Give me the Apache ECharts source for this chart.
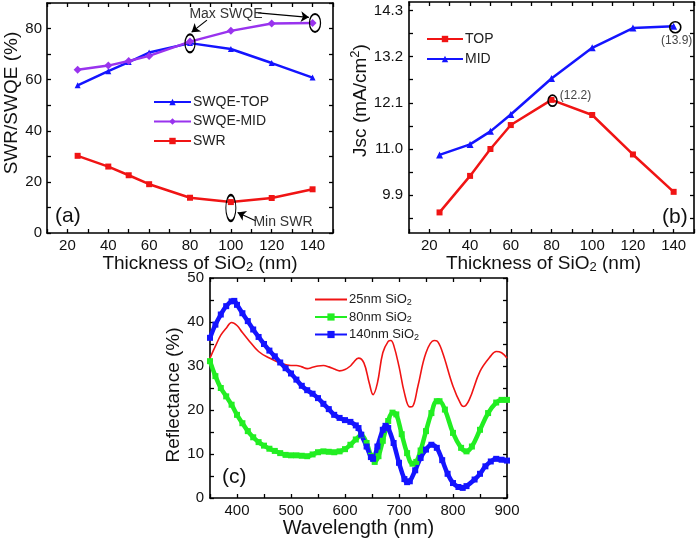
<!DOCTYPE html>
<html><head><meta charset="utf-8">
<script src="https://cdn.jsdelivr.net/npm/echarts@6/dist/echarts.min.js"></script>
<style>html,body{margin:0;padding:0;background:#fff}#c{width:700px;height:540px}</style>
</head><body><div id="c"></div>
<script>
// ---- Panel (a) data ----
const thickness = [25, 40, 50, 60, 80, 100, 120, 140];
const swqeTop = [57.8, 63.3, 66.9, 70.6, 74.3, 72.0, 66.5, 60.8];
const swqeMid = [63.9, 65.5, 67.3, 69.3, 74.9, 79.1, 82.0, 82.2];
const swr = [30.2, 26.0, 22.6, 19.1, 13.8, 12.1, 13.7, 17.1];
// ---- Panel (b) data ----
const jscTop = [9.49, 10.36, 11.0, 11.57, 12.17, 11.81, 10.87, 9.98];
const jscMid = [10.86, 11.11, 11.42, 11.82, 12.68, 13.41, 13.88, 13.92];
const jscTicks = [9.9, 11.0, 12.1, 13.2, 14.3];
const jscMinorTicks = [9.35, 9.9, 10.45, 11.0, 11.55, 12.1, 12.65, 13.2, 13.75, 14.3];
// ---- Panel (c) data ----
const wl25 = [350,360,370,380,390,400,410,420,440,460,480,500,510,520,530,540,550,560,570,580,590,600,610,615,625,635,645,652,660,670,680,685,690,700,710,720,725,735,750,765,770,780,800,815,820,830,850,870,880,890,900];
const r25 = [31.8,34.5,37.0,38.6,39.9,39.2,37.6,36.1,33.3,31.8,30.7,30.1,30.1,29.8,29.4,29.7,30.0,30.1,29.8,29.3,28.9,29.2,30.0,30.7,31.8,30.7,26.1,23.5,26.1,33.0,35.6,35.8,34.8,29.9,23.9,20.7,20.8,25.4,33.0,35.8,35.7,33.3,25.4,21.2,20.8,22.3,28.8,32.3,33.3,33.0,31.8];
const wl80 = [350,360,370,380,390,400,410,420,430,440,450,460,470,480,490,500,510,520,530,540,550,560,570,580,590,600,610,620,630,640,648,655,662,670,680,688,695,705,715,725,732,740,750,760,770,775,785,800,815,825,835,850,865,880,890,900];
const r80 = [31.1,27.7,25.0,23.1,21.2,18.9,17.0,15.2,13.8,12.7,11.9,11.2,10.7,10.2,9.8,9.7,9.7,9.6,9.5,9.9,10.4,10.6,10.5,10.4,10.6,11.1,12.1,13.3,14.3,12.5,9.6,8.2,9.5,13.0,17.5,19.4,19.0,14.5,10.2,7.8,8.2,10.8,15.2,19.3,22.0,22.0,20.1,14.8,11.4,10.6,11.7,15.5,19.3,21.7,22.3,22.3];
const wl140 = [350,360,370,380,390,395,400,410,420,430,440,450,460,470,480,490,500,510,520,530,540,550,560,570,580,590,600,610,620,625,630,640,648,652,660,670,675,680,690,700,710,715,720,730,740,750,760,770,780,790,800,810,818,825,840,850,860,870,880,890,900];
const r140 = [36.4,39.4,41.7,43.6,44.7,44.8,43.9,42.0,40.2,38.3,36.6,35.0,33.5,32.2,30.8,29.5,28.3,26.9,25.5,24.5,23.7,22.7,21.4,20.2,18.9,18.2,17.7,17.3,16.5,15.9,14.4,11.7,9.3,8.9,11.7,15.5,16.4,15.9,12.5,8.0,4.3,3.6,3.8,6.3,9.1,11.0,12.1,11.4,8.6,5.5,3.4,2.5,2.3,2.7,4.2,5.5,7.2,8.3,8.9,8.7,8.5];

const FONT = '"Liberation Sans", Arial, Helvetica, sans-serif';
const BLUE = '#1414ff', RED = '#f01414', PURPLE = '#9933ee', GREEN = '#22ee22';
const pairs = (xs, ys) => xs.map((x, i) => [x, ys[i]]);

function axis(o) {
  const a = {
    type: 'value', gridIndex: o.grid, position: o.pos, min: o.min, max: o.max,
    axisLine: { show: true, onZero: false, lineStyle: { color: '#000', width: 1.6 } },
    axisTick: { show: true, inside: true, length: 4, lineStyle: { color: '#000', width: 1.3 } },
    axisLabel: { show: !!o.label, margin: o.margin || 6, fontSize: 15, color: '#111', fontFamily: FONT, formatter: o.formatter },
    splitLine: { show: false }
  };
  if (o.interval != null) a.interval = o.interval;
  if (o.tickValues) a.axisTick.customValues = o.tickValues;
  if (o.labelValues) a.axisLabel.customValues = o.labelValues;
  if (o.name) {
    a.name = o.name; a.nameLocation = 'middle'; a.nameGap = o.nameGap;
    a.nameTextStyle = Object.assign({ fontSize: 19, color: '#111', fontFamily: FONT,
      rich: { s: { fontSize: 13, fontFamily: FONT, color: '#111', verticalAlign: 'bottom', padding: [9, 0, 0, 0] },
              p: { fontSize: 13, fontFamily: FONT, color: '#111', verticalAlign: 'top', padding: [0, 0, 9, 0] } } }, o.nameStyle || {});
    if (o.nameRotate != null) a.nameRotate = o.nameRotate;
  }
  return a;
}
const by = (step) => (v) => (Math.abs(v % step) < 1e-6 ? String(v) : '');

const option = {
  animation: false,
  backgroundColor: '#fff',
  textStyle: { fontFamily: FONT },
  grid: [
    { left: 47, top: 3, width: 286, height: 230 },
    { left: 409, top: 2, width: 285, height: 231 },
    { left: 210, top: 278, width: 297, height: 220 }
  ],
  xAxis: [
    axis({ grid: 0, pos: 'bottom', min: 10, max: 150, interval: 10, label: true, formatter: by(20), margin: 5,
           name: 'Thickness of SiO{s|2} (nm)', nameGap: 19, nameStyle: { padding: [0, 0, 0, 20] } }),
    axis({ grid: 0, pos: 'top', min: 10, max: 150, interval: 10 }),
    axis({ grid: 1, pos: 'bottom', min: 10, max: 150, interval: 10, label: true, formatter: by(20), margin: 5,
           name: 'Thickness of SiO{s|2} (nm)', nameGap: 19, nameStyle: { padding: [0, 16, 0, 0] } }),
    axis({ grid: 1, pos: 'top', min: 10, max: 150, interval: 10 }),
    axis({ grid: 2, pos: 'bottom', min: 350, max: 900, interval: 50, label: true, formatter: by(100), margin: 5,
           name: 'Wavelength (nm)', nameGap: 18, nameStyle: { fontSize: 20 } }),
    axis({ grid: 2, pos: 'top', min: 350, max: 900, interval: 50 })
  ],
  yAxis: [
    axis({ grid: 0, pos: 'left', min: 0, max: 90, interval: 10, label: true, formatter: by(20), margin: 5,
           name: 'SWR/SWQE (%)', nameGap: 22, nameRotate: 90, nameStyle: { padding: [0, 0, 0, 30] } }),
    axis({ grid: 0, pos: 'right', min: 0, max: 90, interval: 10 }),
    axis({ grid: 1, pos: 'left', min: 9.0, max: 14.5, label: true, tickValues: jscMinorTicks, labelValues: jscTicks,
           formatter: (v) => Number(v).toFixed(1), margin: 6,
           name: 'Jsc (mA/cm{p|2})', nameGap: 37, nameRotate: 90, nameStyle: { padding: [0, 0, 0, 34] } }),
    axis({ grid: 1, pos: 'right', min: 9.0, max: 14.5, tickValues: jscMinorTicks }),
    axis({ grid: 2, pos: 'left', min: 0, max: 50, interval: 5, label: true, formatter: by(10), margin: 6,
           name: 'Reflectance (%)', nameGap: 23, nameRotate: 90, nameStyle: { padding: [0, 14, 0, 0] } }),
    axis({ grid: 2, pos: 'right', min: 0, max: 50, interval: 5 })
  ],
  legend: [
    { data: ['SWQE-TOP', 'SWQE-MID', 'SWR'], orient: 'vertical', left: 148, top: 90, itemWidth: 37, itemHeight: 8,
      itemGap: 5.5, textStyle: { fontSize: 14, color: '#222', fontFamily: FONT, padding: [0, 0, 0, -3] } },
    { data: ['TOP', 'MID'], orient: 'vertical', left: 421, top: 27, itemWidth: 36, itemHeight: 8,
      itemGap: 6, textStyle: { fontSize: 14, color: '#222', fontFamily: FONT, padding: [0, 0, 0, -3] } },
    { data: [ { name: '25nm SiO2', itemStyle: { opacity: 0 } }, '80nm SiO2', '140nm SiO2' ],
      orient: 'vertical', left: 309, top: 288, itemWidth: 32, itemHeight: 9,
      itemGap: 3.5, formatter: (n) => n.replace('SiO2', 'SiO{s|2}'),
      textStyle: { fontSize: 13, color: '#222', fontFamily: FONT, padding: [0, 0, 0, -3],
        rich: { s: { fontSize: 9, color: '#222', fontFamily: FONT, verticalAlign: 'bottom', padding: [6, 0, 0, 0] } } } }
  ],
  series: [
    { name: 'SWQE-TOP', type: 'line', xAxisIndex: 0, yAxisIndex: 0, data: pairs(thickness, swqeTop),
      color: BLUE, lineStyle: { width: 2.5 }, symbol: 'triangle', symbolSize: 6,
      markPoint: { symbol: 'circle', symbolSize: 1, itemStyle: { color: 'transparent' }, silent: true,
        label: { show: true, position: 'inside', color: '#333', fontSize: 14, fontFamily: FONT },
        data: [ { coord: [97.6, 85.7], value: 'Max SWQE', label: { formatter: 'Max SWQE' } },
                { coord: [125.5, 4.3], value: 'Min SWR', label: { formatter: 'Min SWR' } } ] },
      markLine: { silent: true, symbol: ['none', 'arrow'], symbolSize: 8, label: { show: false },
        lineStyle: { color: '#000', width: 1.2, type: 'solid' },
        data: [ [ { coord: [88.3, 83.3] }, { coord: [80.8, 78.6] } ],
                [ { coord: [113.3, 86.1] }, { coord: [138.2, 84.4] } ],
                [ { coord: [112.3, 4.7] }, { coord: [103.3, 8.0] } ] ] } },
    { name: 'SWQE-MID', type: 'line', xAxisIndex: 0, yAxisIndex: 0, data: pairs(thickness, swqeMid),
      color: PURPLE, lineStyle: { width: 2.5 }, symbol: 'diamond', symbolSize: 8,
      markPoint: { symbol: 'circle', silent: true, label: { show: false },
        itemStyle: { color: 'transparent', borderColor: '#000', borderWidth: 1.6 },
        data: [ { coord: [80, 74.2], symbolSize: [10, 18] }, { coord: [141.2, 82.2], symbolSize: [11, 18] } ] } },
    { name: 'SWR', type: 'line', xAxisIndex: 0, yAxisIndex: 0, data: pairs(thickness, swr),
      color: RED, lineStyle: { width: 2.5 }, symbol: 'rect', symbolSize: 6,
      markPoint: { symbol: 'circle', silent: true, label: { show: false },
        itemStyle: { color: 'transparent', borderColor: '#000', borderWidth: 1.6 },
        data: [ { coord: [100, 9.8], symbolSize: [10, 26] } ] } },
    { name: 'TOP', type: 'line', xAxisIndex: 2, yAxisIndex: 2, data: pairs(thickness, jscTop),
      color: RED, lineStyle: { width: 2.5 }, symbol: 'rect', symbolSize: 6,
      markPoint: { symbol: 'circle', silent: true, label: { show: false },
        itemStyle: { color: 'transparent', borderColor: '#000', borderWidth: 1.6 },
        data: [ { coord: [80.5, 12.15], symbolSize: [9, 11] },
                { coord: [91.8, 12.27], symbolSize: 1, itemStyle: { borderWidth: 0 },
                  label: { show: true, position: 'inside', formatter: '(12.2)', fontSize: 12, color: '#444', fontFamily: FONT } } ] } },
    { name: 'MID', type: 'line', xAxisIndex: 2, yAxisIndex: 2, data: pairs(thickness, jscMid),
      color: BLUE, lineStyle: { width: 2.5 }, symbol: 'triangle', symbolSize: 7,
      markPoint: { symbol: 'circle', silent: true, label: { show: false },
        itemStyle: { color: 'transparent', borderColor: '#000', borderWidth: 1.6 },
        data: [ { coord: [140.8, 13.9], symbolSize: [11, 11] },
                { coord: [141.5, 13.58], symbolSize: 1, itemStyle: { borderWidth: 0 },
                  label: { show: true, position: 'inside', formatter: '(13.9)', fontSize: 12, color: '#444', fontFamily: FONT } } ] } },
    { name: '25nm SiO2', type: 'line', xAxisIndex: 4, yAxisIndex: 4, data: pairs(wl25, r25),
      color: RED, lineStyle: { width: 1.6 }, showSymbol: false, symbol: 'none', smooth: 0.4 },
    { name: '80nm SiO2', type: 'line', xAxisIndex: 4, yAxisIndex: 4, data: pairs(wl80, r80),
      color: GREEN, lineStyle: { width: 4.5 }, symbol: 'rect', symbolSize: 6, smooth: 0.4 },
    { name: '140nm SiO2', type: 'line', xAxisIndex: 4, yAxisIndex: 4, data: pairs(wl140, r140),
      color: BLUE, lineStyle: { width: 4.5 }, symbol: 'rect', symbolSize: 6, smooth: 0.4 }
  ],
  graphic: [
    { type: 'text', left: 55, top: 206, style: { text: '(a)', fontSize: 21, fill: '#111', fontFamily: FONT } },
    { type: 'text', left: 662, top: 207, style: { text: '(b)', fontSize: 21, fill: '#111', fontFamily: FONT } },
    { type: 'text', left: 222, top: 467, style: { text: '(c)', fontSize: 21, fill: '#111', fontFamily: FONT } }
  ]
};
const chart = echarts.init(document.getElementById('c'));
chart.setOption(option);
</script>
</body></html>
